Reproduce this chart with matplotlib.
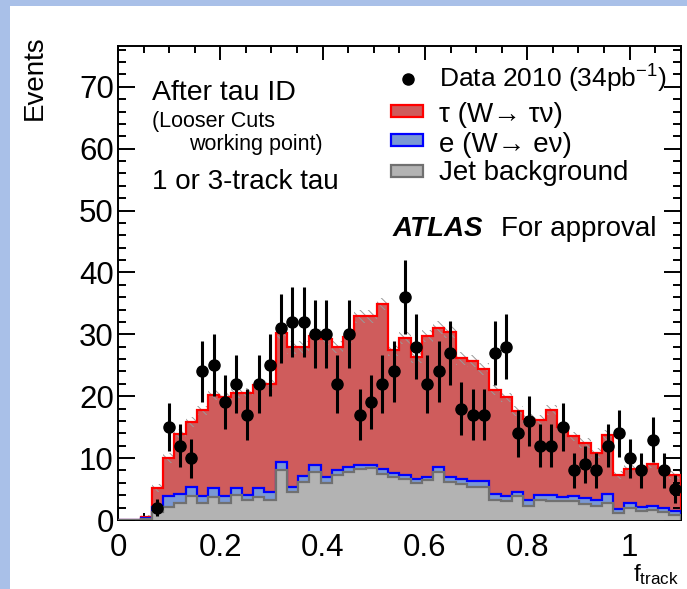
import numpy as np
import matplotlib
matplotlib.use("Agg")
import matplotlib.pyplot as plt
from matplotlib.patches import Rectangle
from matplotlib.lines import Line2D

plt.rcParams['font.family'] = ['Liberation Sans', 'DejaVu Sans']
plt.rcParams['mathtext.fontset'] = 'custom'
plt.rcParams['mathtext.rm'] = 'Liberation Sans'
plt.rcParams['mathtext.it'] = 'Liberation Sans:italic'
plt.rcParams['hatch.linewidth'] = 0.7

# ---------------- data ----------------
x_min, x_max, n_bins = 0.0, 1.1, 50
y_max = 76.6

jet_bkg = [0, 0, 0.1, 1.3, 2.1, 2.8, 3.9, 2.7, 3.7, 2.7, 4.0, 3.2, 3.7, 3.3, 8.1, 4.6, 6.2, 7.8, 6.0, 7.3,
           7.8, 8.3, 8.4, 7.5, 6.9, 6.6, 6.0, 6.4, 7.8, 6.2, 5.8, 5.4, 5.4, 3.3, 3.1, 3.8, 2.3, 3.3, 3.1, 3.0,
           3.0, 2.6, 2.3, 2.8, 1.1, 1.9, 1.5, 1.6, 1.3, 0.8]
e_wenu = [0, 0, 0.2, 0.8, 1.8, 1.4, 1.5, 1.1, 1.4, 1.1, 1.1, 0.9, 1.4, 1.3, 1.3, 0.8, 0.9, 1.1, 1.0, 0.8,
          0.7, 0.6, 0.5, 0.8, 0.7, 0.7, 0.6, 0.5, 0.8, 0.7, 0.9, 0.9, 0.9, 0.9, 0.8, 0.8, 0.9, 0.8, 1.0, 0.7,
          0.9, 0.9, 0.9, 1.4, 0.6, 0.9, 0.6, 0.7, 0.6, 0.6]
tau_wtaunu = [0, 0, 0.2, 3.1, 6.1, 9.7, 10.4, 13.9, 15.1, 16.0, 15.4, 16.5, 16.7, 17.4, 20.8, 22.5, 20.8, 20.9,
              22.2, 19.9, 21.1, 24.0, 24.0, 26.6, 19.9, 22.1, 19.7, 22.8, 22.5, 23.5, 19.4, 19.4, 18.1, 16.8,
              15.9, 13.0, 13.1, 12.1, 13.7, 11.3, 9.6, 8.9, 7.6, 9.6, 5.6, 5.5, 6.2, 6.7, 6.5, 5.9]
mc_unc = [0, 0, 0.3, 0.6, 0.8, 0.8, 0.8, 0.8, 0.8, 0.8, 0.8, 0.8, 0.8, 0.8, 1.0, 1.0, 1.0, 1.0, 1.0, 1.0,
          1.0, 1.0, 1.0, 1.0, 1.0, 1.0, 1.0, 1.0, 1.0, 1.0, 1.0, 1.0, 1.0, 0.8, 0.8, 0.8, 0.8, 0.8, 0.8, 0.8,
          0.8, 0.8, 0.8, 0.8, 0.6, 0.6, 0.6, 0.6, 0.6, 0.6]
data_counts = [0, 0, 0, 2, 15, 12, 10, 24, 25, 19, 22, 17, 22, 25, 31, 32, 32, 30, 30, 22,
               30, 17, 19, 22, 24, 36, 28, 22, 24, 27, 18, 17, 17, 27, 28, 14, 16, 12, 12, 15,
               8, 9, 8, 12, 14, 10, 8, 13, 8, 5]

x_ticks = [0, 0.2, 0.4, 0.6, 0.8, 1.0]
x_ticklabels = ['0', '0.2', '0.4', '0.6', '0.8', '1']
y_ticks = [0, 10, 20, 30, 40, 50, 60, 70]

# colours
c_red_fill, c_red_line = '#cf5c5c', '#ff0000'
c_blue_fill, c_blue_line = '#7a98d4', '#0000ff'
c_gray_fill, c_gray_line = '#b3b3b3', '#707070'
c_slide = '#a9c0e8'

# ---------------- figure ----------------
W, H = 687, 589
fig = plt.figure(figsize=(W / 100, H / 100), dpi=100)
fig.patch.set_facecolor(c_slide)

bg = fig.add_axes([0, 0, 1, 1], zorder=0)
bg.set_xlim(0, W); bg.set_ylim(H, 0); bg.axis('off')
bg.add_patch(Rectangle((10, 6), W, H, facecolor='white', edgecolor='none'))

ax = fig.add_axes([118 / W, (H - 520) / H, 562.7 / W, 474 / H], zorder=1)
edges = np.linspace(x_min, x_max, n_bins + 1)
centers = 0.5 * (edges[:-1] + edges[1:])

jet = np.array(jet_bkg)
ele = np.array(e_wenu)
tau = np.array(tau_wtaunu)
unc = np.array(mc_unc)
top_gray = jet
top_blue = jet + ele
top_red = jet + ele + tau

ax.stairs(top_red, edges, baseline=0, fill=True, color=c_red_fill, zorder=1)
ax.stairs(top_red + unc, edges, baseline=top_red - unc, fill=True, facecolor='none',
          edgecolor='#9a9a9a', hatch='\\\\\\\\', linewidth=0, zorder=2)
ax.stairs(top_red, edges, baseline=0, color=c_red_line, linewidth=1.6, zorder=3)
ax.stairs(top_blue, edges, baseline=0, fill=True, color=c_blue_fill, zorder=4)
ax.stairs(top_blue, edges, baseline=0, color=c_blue_line, linewidth=1.6, zorder=5)
ax.stairs(top_gray, edges, baseline=0, fill=True, color=c_gray_fill, zorder=6)
ax.stairs(top_gray, edges, baseline=0, color=c_gray_line, linewidth=1.6, zorder=7)

d = np.array(data_counts, dtype=float)
m = d > 0
ax.errorbar(centers[m], d[m], yerr=np.sqrt(d[m]), fmt='o', color='black', ms=8,
            elinewidth=2.2, capsize=0, zorder=10)

ax.set_xlim(x_min, x_max)
ax.set_ylim(0, y_max)
ax.set_xticks(x_ticks)
ax.set_xticklabels(x_ticklabels)
ax.set_xticks(np.arange(0, 1.1001, 0.05), minor=True)
ax.set_yticks(y_ticks)
ax.set_yticks(np.arange(0, 76.1, 2), minor=True)
for s in ax.spines.values():
    s.set_linewidth(1.4)
ax.tick_params(which='both', direction='in', top=True, right=True, width=1.4, labelsize=22.5)
ax.tick_params(axis='x', which='major', length=10, pad=9)
ax.tick_params(axis='x', which='minor', length=5)
ax.tick_params(axis='y', which='major', length=12, pad=3)
ax.tick_params(axis='y', which='minor', length=6)

# ---------------- annotations (pixel overlay) ----------------
ov = fig.add_axes([0, 0, 1, 1], zorder=5)
ov.set_xlim(0, W); ov.set_ylim(H, 0); ov.axis('off')
ov.patch.set_alpha(0)

ov.text(42, 120, 'Events', rotation=90, rotation_mode='anchor', ha='left', va='baseline', fontsize=20)
ov.text(679, 581, r'$\mathrm{f}_{\mathrm{track}}$', ha='right', va='baseline', fontsize=17.5)

ov.text(152, 100, 'After tau ID', ha='left', va='baseline', fontsize=20.5)
ov.text(152, 127, '(Looser Cuts', ha='left', va='baseline', fontsize=15.5)
ov.text(189, 150, 'working point)', ha='left', va='baseline', fontsize=15.5)
ov.text(152, 189, '1 or 3-track tau', ha='left', va='baseline', fontsize=20)

# legend
ov.add_line(Line2D([408], [78.5], marker='o', ms=8, color='black', linestyle='none'))
ov.text(439, 88, r'Data 2010 (34pb$^{\mathrm{-1}}$)', ha='left', va='baseline', fontsize=19)
leg_rows = [(c_red_fill, c_red_line, 110.5, 121.5, 'τ (W→ τν)'),
            (c_blue_fill, c_blue_line, 140.0, 151.5, 'e (W→ eν)'),
            (c_gray_fill, c_gray_line, 170.5, 180.0, 'Jet background')]
for fc, ec, cy, by, lab in leg_rows:
    ov.add_patch(Rectangle((391, cy - 6), 32, 12, facecolor=fc, edgecolor=ec, linewidth=1.6))
    ov.text(439, by, lab, ha='left', va='baseline', fontsize=20)

ov.text(393, 236.5, 'ATLAS', ha='left', va='baseline', fontsize=20, fontweight='bold', style='italic')
ov.text(501, 236.5, 'For approval', ha='left', va='baseline', fontsize=20)

fig.savefig('out.png', dpi=100, facecolor=fig.get_facecolor())
